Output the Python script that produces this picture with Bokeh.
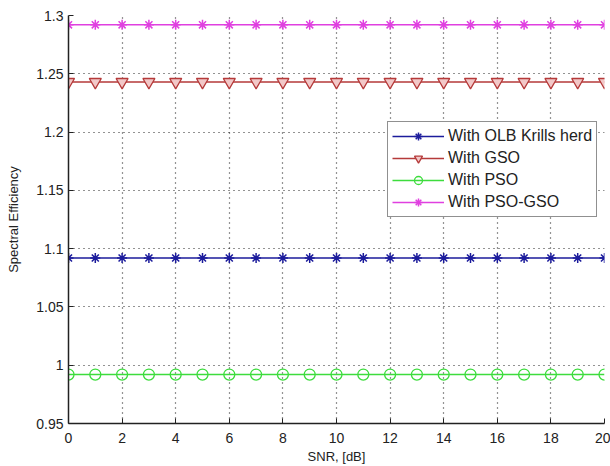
from bokeh.plotting import figure
from bokeh.models import FixedTicker, CustomJSTickFormatter, Range1d, Legend
from bokeh.embed import file_html
from bokeh.resources import INLINE

snr = list(range(0, 21))
olb_krill = [1.092] * 21
gso = [1.243] * 21
pso = [0.992] * 21
pso_gso = [1.292] * 21

x_ticks = list(range(0, 21, 2))
y_ticks = [0.95, 1.0, 1.05, 1.1, 1.15, 1.2, 1.25, 1.3]

FONT = "Liberation Sans"

p = figure(width=610, height=466, output_backend="svg", toolbar_location=None,
           x_range=Range1d(0, 20), y_range=Range1d(0.95, 1.3),
           min_border_left=68, min_border_right=6, min_border_top=15, min_border_bottom=43)
p.outline_line_color = None
p.background_fill_color = "white"
p.border_fill_color = "white"

for ax in (p.xaxis[0], p.yaxis[0]):
    ax.axis_line_color = "#222222"
    ax.axis_line_width = 1.5
    ax.major_tick_in = 5
    ax.major_tick_out = 0
    ax.minor_tick_in = 0
    ax.minor_tick_out = 0
    ax.major_tick_line_color = "#222222"
    ax.major_label_text_font = FONT
    ax.major_label_text_font_size = "14px"
    ax.major_label_text_color = "#222222"
    ax.axis_label_text_font = FONT
    ax.axis_label_text_font_size = "13px"
    ax.axis_label_text_font_style = "normal"
    ax.axis_label_text_color = "#222222"

p.xaxis.ticker = FixedTicker(ticks=x_ticks)
p.yaxis.ticker = FixedTicker(ticks=y_ticks)
p.yaxis.formatter = CustomJSTickFormatter(code="return Number(tick.toFixed(2)).toString();")
p.xaxis.axis_label = "SNR, [dB]"
p.yaxis.axis_label = "Spectral Efficiency"
p.xaxis.major_label_standoff = 9
p.xaxis.axis_label_standoff = 3
p.yaxis.major_label_standoff = 5
p.yaxis.axis_label_standoff = 12

p.grid.grid_line_color = "#111111"
p.grid.grid_line_dash = "1 4"
p.grid.grid_line_width = 1.2
p.grid.grid_line_alpha = 0.9

blue = "#1c1c9c"
red = "#b53a3a"
green = "#3ddc3d"
mag = "#e040e0"

l1 = p.line(snr, olb_krill, line_color=blue, line_width=1.5)
m1 = p.scatter(snr, olb_krill, marker="asterisk", size=10, line_color=blue, line_width=1.5)
l2 = p.line(snr, gso, line_color=red, line_width=1.5)
m2 = p.scatter(snr, gso, marker="inverted_triangle", size=12, line_color=red,
               fill_color="#f2c8c8", line_width=1.3)
l3 = p.line(snr, pso, line_color=green, line_width=1.5)
m3 = p.scatter(snr, pso, marker="circle", size=11, line_color=green, fill_color=None, line_width=1.3)
l4 = p.line(snr, pso_gso, line_color=mag, line_width=1.5)
m4 = p.scatter(snr, pso_gso, marker="asterisk", size=10, line_color=mag, line_width=1.5)

legend = Legend(items=[("With OLB Krills herd", [l1, m1]),
                       ("With GSO", [l2, m2]),
                       ("With PSO", [l3, m3]),
                       ("With PSO-GSO", [l4, m4])],
                location=(319, 206))
legend.border_line_color = "#222222"
legend.border_line_width = 1.2
legend.label_text_font = FONT
legend.label_text_font_size = "16px"
legend.label_text_color = "#222222"
legend.glyph_width = 52
legend.glyph_height = 20
legend.label_height = 20
legend.spacing = 2
legend.padding = 4
legend.margin = 0
legend.label_standoff = 4
legend.background_fill_alpha = 1
p.add_layout(legend, "center")

open("out.html", "w").write(file_html(p, INLINE))
